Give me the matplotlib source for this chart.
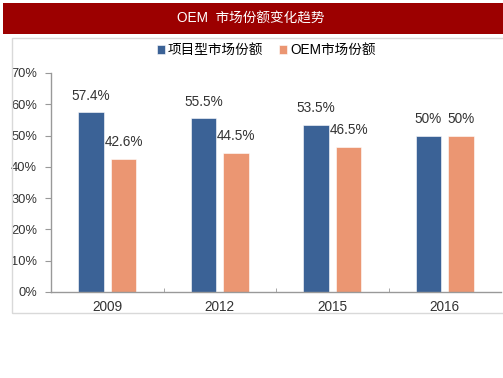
import matplotlib
matplotlib.use("Agg")
import matplotlib.pyplot as plt
from matplotlib.patches import Rectangle
import numpy as np

plt.rcParams['font.family'] = ['Liberation Sans', 'Noto Sans CJK SC', 'DejaVu Sans']

title = "OEM  市场份额变化趋势"
categories = ["2009", "2012", "2015", "2016"]
series_names = ["项目型市场份额", "OEM市场份额"]
project_share = [57.4, 55.5, 53.5, 50.0]
oem_share = [42.6, 44.5, 46.5, 50.0]
project_labels = ["57.4%", "55.5%", "53.5%", "50%"]
oem_labels = ["42.6%", "44.5%", "46.5%", "50%"]
yticks = [0, 10, 20, 30, 40, 50, 60, 70]

blue = "#3b6296"
orange = "#eb9672"

W, H = 503, 378
fig = plt.figure(figsize=(W / 100, H / 100), dpi=100)

# title banner
fig.patches.append(Rectangle((3 / W, 1 - 34 / H), 500 / W, 31 / H, transform=fig.transFigure,
                             facecolor="#9c0000", edgecolor="none", zorder=0))
fig.text(251 / W, 1 - 19 / H, title, color="white", fontsize=9.8, ha="center", va="center")

# panel border
fig.patches.append(Rectangle((11.5 / W, 1 - 313 / H), 500 / W, 275 / H, transform=fig.transFigure,
                             facecolor="none", edgecolor="#d9d9d9", linewidth=1, zorder=0))

ax_left, ax_right = 51, 501
ax_top, ax_bot = 73, 292
ax = fig.add_axes([ax_left / W, 1 - ax_bot / H, (ax_right - ax_left) / W, (ax_bot - ax_top) / H])

x = np.arange(len(categories))
bw = 0.225
off = 0.145
b1 = ax.bar(x - off, project_share, bw, color=blue, edgecolor="white", linewidth=0.4, label=series_names[0])
b2 = ax.bar(x + off, oem_share, bw, color=orange, edgecolor="white", linewidth=0.4, label=series_names[1])

for i in range(len(categories)):
    ax.text(x[i] - off, project_share[i] + 3, project_labels[i], ha="center", va="bottom",
            fontsize=9.8, color="#333333")
    ax.text(x[i] + off, oem_share[i] + 3, oem_labels[i], ha="center", va="bottom",
            fontsize=9.8, color="#333333")

ax.set_xlim(-0.5, len(categories) - 0.5)
ax.set_ylim(0, 70)
ax.set_yticks(yticks)
ax.set_yticklabels([f"{v}%" for v in yticks], fontsize=9.3, color="#333333")
ax.set_xticks(x)
ax.set_xticklabels(categories, fontsize=9.8, color="#333333")
ax.set_xticks(np.arange(0.5, len(categories) - 0.5, 1), minor=True)
ax.tick_params(axis="x", which="major", length=0, pad=6)
ax.tick_params(axis="x", which="minor", length=3, direction="in", color="#999999")
ax.tick_params(axis="y", length=4, color="#999999", pad=6)
for s in ["top", "right"]:
    ax.spines[s].set_visible(False)
for s in ["left", "bottom"]:
    ax.spines[s].set_color("#999999")
    ax.spines[s].set_linewidth(1)

fig.legend(handles=[b1, b2], labels=series_names, loc="center", bbox_to_anchor=(266 / W, 1 - 50 / H),
           ncol=2, frameon=False, fontsize=9.8, handlelength=0.6, handleheight=0.6,
           handletextpad=0.2, columnspacing=1.2)

fig.savefig("out.png", dpi=100)
